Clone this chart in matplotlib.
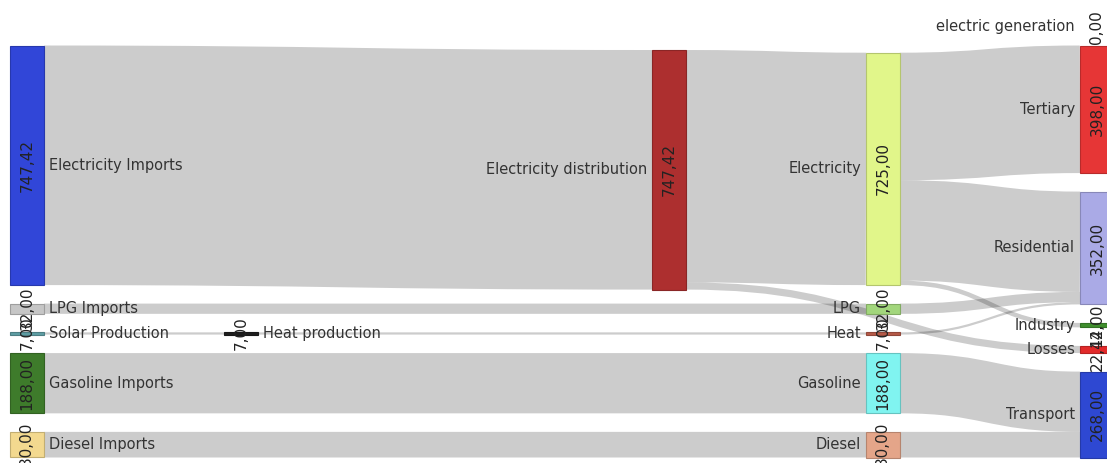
import matplotlib
matplotlib.use("Agg")
import matplotlib.pyplot as plt
from matplotlib.path import Path
from matplotlib.patches import PathPatch, Rectangle
from matplotlib.colors import to_rgb

# ---------------- data ----------------
node_names = ["Electricity Imports", "LPG Imports", "Solar Production", "Gasoline Imports",
              "Diesel Imports", "Heat production", "Electricity distribution", "Electricity",
              "LPG", "Heat", "Gasoline", "Diesel", "electric generation", "Tertiary",
              "Residential", "Industry", "Losses", "Transport"]
node_columns = [0, 0, 0, 0, 0, 1, 3, 4, 4, 4, 4, 4, 5, 5, 5, 5, 5, 5]
node_colors = ["#3146d8", "#c6c6c6", "#5f9ea4", "#3e7b2b", "#f3d98f", "#1e1e1e", "#ad2f2f",
               "#e1f68a", "#a2d67c", "#b65a48", "#80f4f0", "#e4a589", "#9a9a9a", "#e63636",
               "#aaaae6", "#3f8e2d", "#e22a2a", "#2e48d2"]

link_sources = ["Electricity Imports", "LPG Imports", "Solar Production", "Heat production",
                "Gasoline Imports", "Diesel Imports", "Electricity distribution",
                "Electricity distribution", "Electricity", "Electricity", "Electricity",
                "LPG", "Heat", "Gasoline", "Diesel"]
link_targets = ["Electricity distribution", "LPG", "Heat production", "Heat",
                "Gasoline", "Diesel", "Electricity", "Losses", "Tertiary", "Residential",
                "Industry", "Residential", "Residential", "Transport", "Transport"]
link_values = [747.42, 32.0, 7.0, 7.0, 188.0, 80.0, 725.0, 22.42, 398.0, 313.0, 14.0,
               32.0, 7.0, 188.0, 80.0]

# ---------------- layout settings ----------------
W, H = 1107, 463
col_x0, col_step, node_w = 10, 214, 34
top_y, bottom_y, gap = 27.0, 457.5, 18.5
link_rgba = (0, 0, 0, 0.2)
label_size = 10.5
value_size = 11
text_color = "#333333"

n = len(node_names)
idx = {name: i for i, name in enumerate(node_names)}
src = [idx[s] for s in link_sources]
tgt = [idx[t] for t in link_targets]

vin = [0.0] * n
vout = [0.0] * n
for s, t, v in zip(src, tgt, link_values):
    vout[s] += v
    vin[t] += v
value = [max(a, b) for a, b in zip(vin, vout)]

columns = {}
for i, c in enumerate(node_columns):
    columns.setdefault(c, []).append(i)

# scale
k = min((bottom_y - top_y - (len(m) - 1) * gap) / sum(value[i] for i in m)
        for m in columns.values())

y0 = [0.0] * n
y1 = [0.0] * n
x0 = [col_x0 + col_step * c for c in node_columns]
x1 = [x + node_w for x in x0]

# stacked columns (bottom aligned)
single = []
for c, members in columns.items():
    if len(members) == 1:
        single.append(members[0])
        continue
    total = sum(value[i] for i in members) * k + (len(members) - 1) * gap
    y = bottom_y - total
    for i in members:
        y0[i] = y
        y1[i] = y + value[i] * k
        y = y1[i] + gap

# single-node columns: weighted mean of neighbour centres
for _ in range(3):
    for i in single:
        num = den = 0.0
        for s, t, v in zip(src, tgt, link_values):
            if s == i:
                num += v * (y0[t] + y1[t]) / 2
                den += v
            if t == i:
                num += v * (y0[s] + y1[s]) / 2
                den += v
        cy = num / den
        h = value[i] * k
        y0[i] = cy - h / 2
        y1[i] = cy + h / 2

# link offsets
nl = len(link_values)
ly_src = [0.0] * nl
ly_tgt = [0.0] * nl
for i in range(n):
    outs = sorted([j for j in range(nl) if src[j] == i], key=lambda j: (y0[tgt[j]] + y1[tgt[j]]) / 2)
    y = y0[i]
    for j in outs:
        w = link_values[j] * k
        ly_src[j] = y + w / 2
        y += w
    ins = sorted([j for j in range(nl) if tgt[j] == i], key=lambda j: (y0[src[j]] + y1[src[j]]) / 2)
    y = y0[i]
    for j in ins:
        w = link_values[j] * k
        ly_tgt[j] = y + w / 2
        y += w

# ---------------- drawing ----------------
fig = plt.figure(figsize=(W / 100, H / 100), dpi=100)
ax = fig.add_axes([0, 0, 1, 1])
ax.set_xlim(0, W)
ax.set_ylim(H, 0)
ax.axis("off")

for j in range(nl):
    sx, tx = x1[src[j]], x0[tgt[j]]
    xm = (sx + tx) / 2
    verts = [(sx, ly_src[j]), (xm, ly_src[j]), (xm, ly_tgt[j]), (tx, ly_tgt[j])]
    path = Path(verts, [Path.MOVETO, Path.CURVE4, Path.CURVE4, Path.CURVE4])
    lw = link_values[j] * k * 72 / 100
    ax.add_patch(PathPatch(path, fill=False, edgecolor=link_rgba, lw=lw,
                           capstyle="butt", zorder=1))

for i in range(n):
    rgb = to_rgb(node_colors[i])
    edge = tuple(c * 0.8 for c in rgb)
    h = max(y1[i] - y0[i], 0.0)
    if h > 0:
        ax.add_patch(Rectangle((x0[i], y0[i]), node_w, h, facecolor=rgb,
                               edgecolor=edge, lw=0.8, zorder=2))
    cy = (y0[i] + y1[i]) / 2
    if x0[i] < W / 2:
        ax.text(x1[i] + 5, cy, node_names[i], ha="left", va="center",
                fontsize=label_size, color=text_color, zorder=3)
    else:
        ax.text(x0[i] - 5, cy, node_names[i], ha="right", va="center",
                fontsize=label_size, color=text_color, zorder=3)
    ax.text((x0[i] + x1[i]) / 2, cy, f"{value[i]:.2f}".replace(".", ","),
            rotation=90, ha="center", va="center", fontsize=value_size,
            color="#222222", zorder=3)

fig.savefig("out.png", dpi=100)
